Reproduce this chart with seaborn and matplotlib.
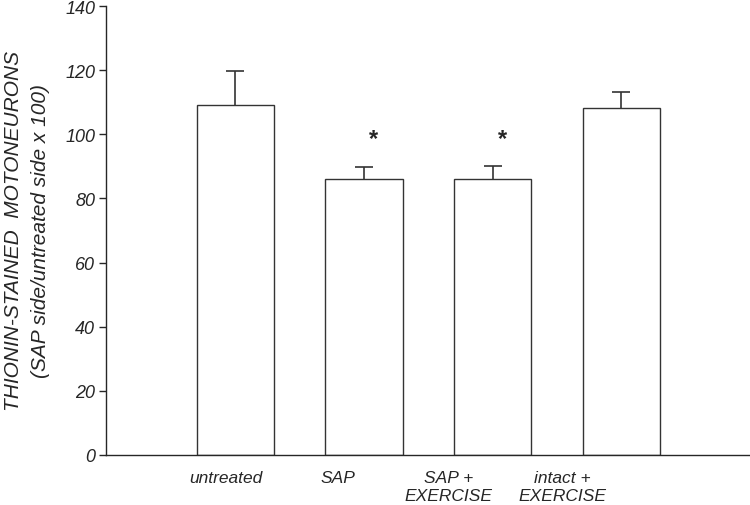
import matplotlib
matplotlib.use("Agg")
import matplotlib.pyplot as plt
import seaborn as sns
import pandas as pd

groups = ["untreated", "SAP", "SAP +\nEXERCISE", "intact +\nEXERCISE"]
means = [109.2, 86.0, 86.0, 108.1]
sem = [10.5, 3.9, 4.1, 5.1]
significant = [False, True, True, False]


def main():
    sns.set_style("ticks")
    plt.rcParams["font.family"] = ["Liberation Sans", "DejaVu Sans"]

    df = pd.DataFrame({"group": groups, "value": means})

    fig = plt.figure(figsize=(7.5, 5.06), dpi=100)
    ax = fig.add_axes([0.142, 0.099, 0.858, 0.887])

    sns.barplot(data=df, x="group", y="value", color="white", edgecolor="#333333",
                linewidth=1.0, width=0.6, errorbar=None, ax=ax)

    eb = ax.errorbar(range(len(groups)), means, yerr=[[0] * len(sem), sem], fmt="none",
                     ecolor="#333333", elinewidth=1.2, capsize=6.5, capthick=1.2)
    # only the upper cap is drawn in the original
    eb[1][0].set_visible(False)

    for i, sig in enumerate(significant):
        if sig:
            ax.text(i + 0.07, 98.6, "*", ha="center", va="center", fontsize=17,
                    fontstyle="italic", fontweight="bold")

    ax.set_ylim(0, 140)
    ax.set_xlim(-1.0, 4.0)
    ax.set_yticks(range(0, 141, 20))
    # category labels sit a bit left of their bars in the original
    label_shift = [-0.07, -0.2, -0.34, -0.46]
    ax.set_xticks([i + d for i, d in enumerate(label_shift)])
    ax.set_xticklabels(groups)
    ax.set_xlabel("")
    ax.set_ylabel("THIONIN-STAINED  MOTONEURONS\n(SAP side/untreated side x 100)",
                  fontsize=15, fontstyle="italic", linespacing=1.55, labelpad=11)
    ax.tick_params(axis="y", length=5, width=1, labelsize=13, pad=3)
    ax.tick_params(axis="x", length=0, labelsize=12.5, pad=11)
    for lab in ax.get_xticklabels() + ax.get_yticklabels():
        lab.set_fontstyle("italic")
    sns.despine(ax=ax)
    ax.spines["left"].set_linewidth(1.0)
    ax.spines["bottom"].set_linewidth(1.0)

    fig.savefig("out.png", dpi=100)


if __name__ == "__main__":
    main()
